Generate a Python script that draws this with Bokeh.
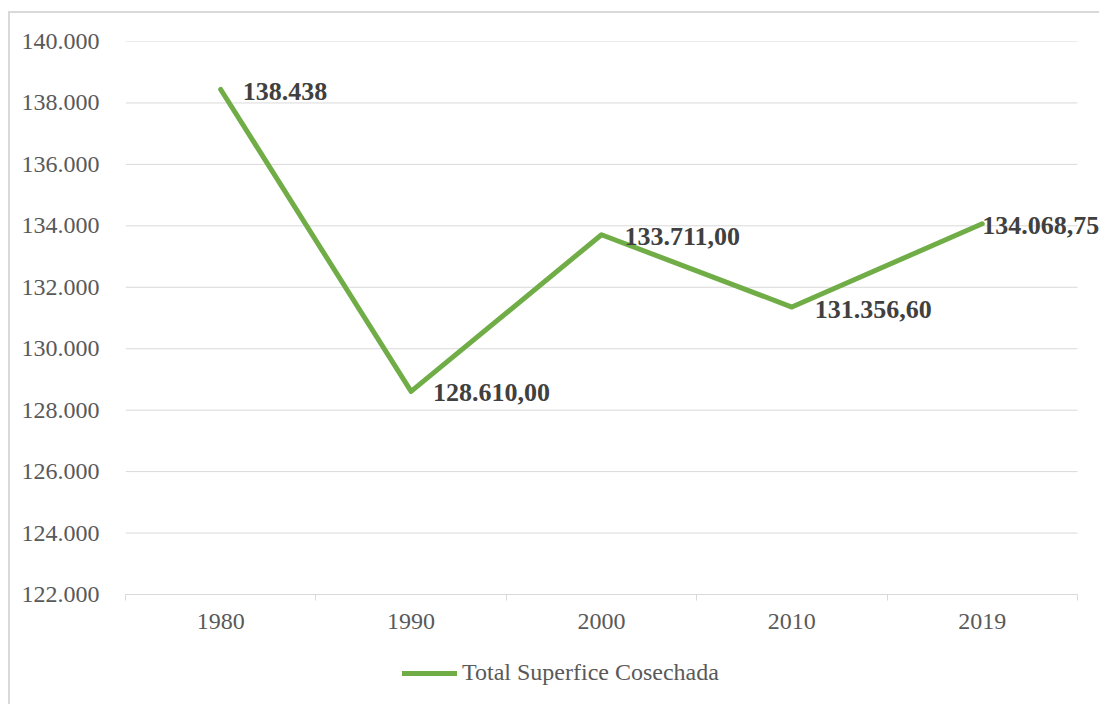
from bokeh.plotting import figure
from bokeh.layouts import column
from bokeh.models import (Range1d, FixedTicker, ColumnDataSource, LabelSet,
                          Legend, LegendItem)
from bokeh.core.properties import value
from bokeh.embed import file_html
from bokeh.resources import INLINE

# ---- data ----
years = ["1980", "1990", "2000", "2010", "2019"]
superficie = [138438, 128610, 133711, 131356.6, 134068.75]
value_labels = ["138.438", "128.610,00", "133.711,00", "131.356,60", "134.068,75"]
y_ticks = [122000, 124000, 126000, 128000, 130000, 132000, 134000, 136000, 138000, 140000]
y_tick_labels = ["122.000", "124.000", "126.000", "128.000", "130.000",
                 "132.000", "134.000", "136.000", "138.000", "140.000"]
series_name = "Total Superfice Cosechada"

# label placement (style, screen px)
label_dx = [22, 22, 23, 23, 0]
label_dy = [-2, -1, -2, -2, -1.5]

FONT = "Liberation Serif"
GRID = "#D9D9D9"
TXT = "#595959"
GREEN = "#70AD47"
TICK_FS = "24px"

# layout (screen px)
CAT_W = 190          # width of one category slot
N = len(years)
PLOT_W = CAT_W * N   # 950
RIGHT_PAD = 24       # room for the overflowing last label
LEFT = 115
TOP = 28
PLOT_H = 551
AXIS_H = 50
TOTAL_W = LEFT + PLOT_W + RIGHT_PAD
LEG_H = 704 - 11 - 2 - TOP - PLOT_H - AXIS_H

xs = [i + 1 for i in range(N)]
x0 = xs[0] - 0.5
x1 = xs[-1] + 0.5

p = figure(frame_width=PLOT_W + RIGHT_PAD, frame_height=PLOT_H,
           x_range=Range1d(x0, x1 + RIGHT_PAD / CAT_W),
           y_range=Range1d(y_ticks[0], y_ticks[-1]),
           output_backend="svg", toolbar_location=None,
           min_border_left=LEFT, min_border_top=TOP, min_border_right=0,
           min_border_bottom=AXIS_H, margin=(11, 0, 0, 8))
p.outline_line_color = None
p.background_fill_color = "white"
p.border_fill_color = "white"
p.styles = {"border-left": "2px solid #D9D9D9", "border-top": "2px solid #D9D9D9"}

# x axis
p.xaxis.ticker = FixedTicker(ticks=xs, minor_ticks=[x - 0.5 for x in xs] + [x1])
p.xaxis.bounds = (x0, x1)
p.xaxis.major_label_overrides = {x: y for x, y in zip(xs, years)}
p.xaxis.axis_line_color = GRID
p.xaxis.axis_line_width = 1
p.xaxis.major_tick_line_color = None
p.xaxis.major_tick_out = 0
p.xaxis.major_tick_in = 0
p.xaxis.minor_tick_line_color = GRID
p.xaxis.minor_tick_out = 6
p.xaxis.minor_tick_in = 0
p.xaxis.major_label_text_font = FONT
p.xaxis.major_label_text_font_size = TICK_FS
p.xaxis.major_label_text_color = TXT
p.xaxis.major_label_standoff = 13
p.xgrid.grid_line_color = None

# y axis
p.yaxis.ticker = FixedTicker(ticks=y_ticks)
p.yaxis.major_label_overrides = {t: l for t, l in zip(y_ticks, y_tick_labels)}
p.yaxis.axis_line_color = None
p.yaxis.major_tick_line_color = None
p.yaxis.minor_tick_line_color = None
p.yaxis.major_label_text_font = FONT
p.yaxis.major_label_text_font_size = TICK_FS
p.yaxis.major_label_text_color = TXT
p.yaxis.major_label_standoff = 20
p.ygrid.grid_line_color = None

# horizontal gridlines limited to the category area
p.segment(x0=[x0] * len(y_ticks), x1=[x1] * len(y_ticks), y0=y_ticks, y1=y_ticks,
          line_color=GRID, line_width=1)

src = ColumnDataSource(dict(x=xs, y=superficie, lab=value_labels, dx=label_dx, dy=label_dy))
r = p.line("x", "y", source=src, line_color=GREEN, line_width=5,
           line_join="round", line_cap="round")

labels = LabelSet(x="x", y="y", text="lab", x_offset="dx", y_offset="dy", source=src,
                  text_font=value(FONT), text_font_style="bold", text_font_size="26px",
                  text_color="#404040", text_baseline="middle", text_align="left")
p.add_layout(labels)

# ---- legend strip below the chart ----
p2 = figure(frame_width=TOTAL_W, frame_height=LEG_H, x_range=Range1d(0, 1),
            y_range=Range1d(0, 1), output_backend="svg", toolbar_location=None,
            x_axis_type=None, y_axis_type=None, min_border=0,
            margin=(0, 0, 0, 8))
p2.outline_line_color = None
p2.grid.visible = False
p2.styles = {"border-left": "2px solid #D9D9D9"}
r2 = p2.line(xs, superficie, line_color=GREEN, line_width=5, line_cap="round")

legend = Legend(items=[LegendItem(label=series_name, renderers=[r2])],
                orientation="horizontal", location=(392, LEG_H - 30 - 14),
                label_text_font=FONT, label_text_font_size=TICK_FS,
                label_text_color=TXT, glyph_width=55, glyph_height=26,
                label_height=26, label_standoff=5,
                padding=0, margin=0, border_line_color=None,
                background_fill_alpha=0)
p2.add_layout(legend)

layout = column(p, p2, spacing=0)
open("out.html", "w").write(file_html(layout, INLINE))
